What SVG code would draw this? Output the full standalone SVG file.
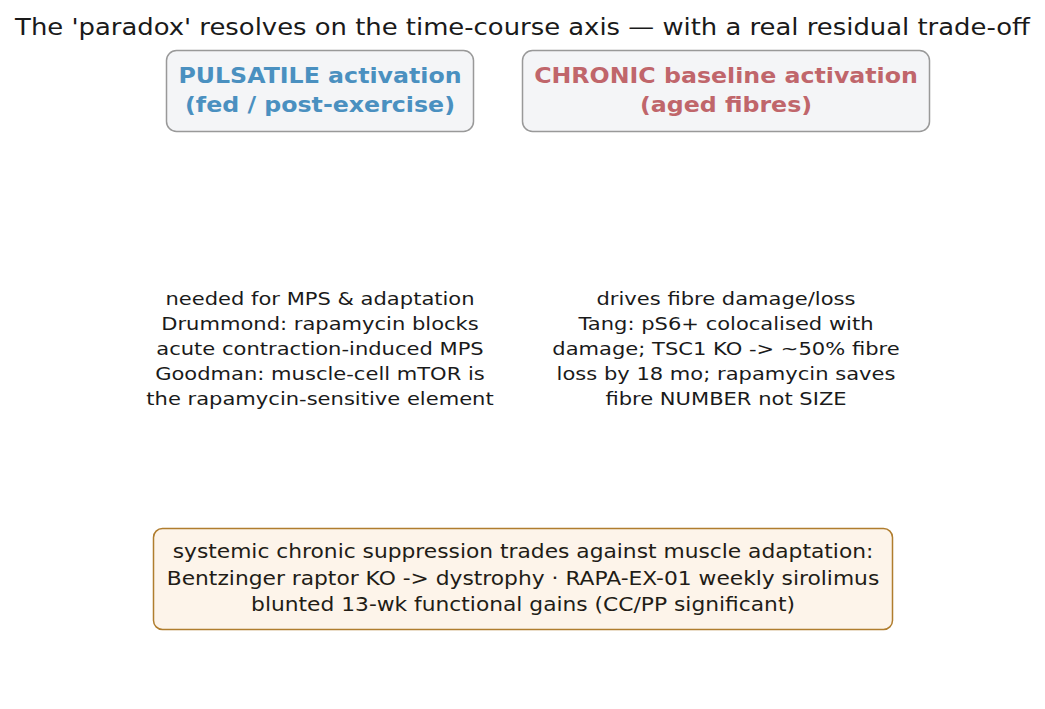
<svg xmlns="http://www.w3.org/2000/svg" width="1045" height="709" viewBox="0 0 1045 709">
<style>
text{font-family:"DejaVu Sans",sans-serif;text-anchor:middle;fill:#1a1a1a}
.title{font-size:22.5px}
.hdr{font-size:20.6px;font-weight:bold}
.body{font-size:18.3px}
.note{font-size:19.2px;fill:#221c16}
.hbox{fill:#f4f5f7;stroke:#999;stroke-width:1.5}
.blue{fill:#4a90c0}
.red{fill:#c0666b}
</style>
<rect width="1045" height="709" fill="#fff"/>
<g id="title" transform="translate(522.5 0) scale(1.15 1)">
<text class="title" x="0" y="35">The 'paradox' resolves on the time-course axis — with a real residual trade-off</text>
</g>
<g id="pulsatile">
<rect class="hbox" x="166.5" y="50.5" width="307" height="81" rx="10"/>
<g transform="translate(320 0) scale(1.15 1)">
<text class="hdr blue" x="0" y="83.5">PULSATILE activation</text>
<text class="hdr blue" x="0" y="112.5">(fed / post-exercise)</text>
</g>
</g>
<g id="chronic">
<rect class="hbox" x="522.5" y="50.5" width="407" height="81" rx="10"/>
<g transform="translate(726 0) scale(1.15 1)">
<text class="hdr red" x="0" y="83.5">CHRONIC baseline activation</text>
<text class="hdr red" x="0" y="112.5">(aged fibres)</text>
</g>
</g>
<g id="pulsatile-notes" transform="translate(320 0) scale(1.15 1)">
<text class="body" x="0" y="305.5">needed for MPS &amp; adaptation</text>
<text class="body" x="0" y="330.5">Drummond: rapamycin blocks</text>
<text class="body" x="0" y="355.5">acute contraction-induced MPS</text>
<text class="body" x="0" y="380.5">Goodman: muscle-cell mTOR is</text>
<text class="body" x="0" y="405.5">the rapamycin-sensitive element</text>
</g>
<g id="chronic-notes" transform="translate(726 0) scale(1.15 1)">
<text class="body" x="0" y="305.5">drives fibre damage/loss</text>
<text class="body" x="0" y="330.5">Tang: pS6+ colocalised with</text>
<text class="body" x="0" y="355.5">damage; TSC1 KO -&gt; ~50% fibre</text>
<text class="body" x="0" y="380.5">loss by 18 mo; rapamycin saves</text>
<text class="body" x="0" y="405.5">fibre NUMBER not SIZE</text>
</g>
<g id="tradeoff">
<rect x="153.5" y="528.5" width="739" height="101" rx="9" fill="#fdf4ea" stroke="#b07d2e" stroke-width="1.5"/>
<g transform="translate(523 0) scale(1.135 1)">
<text class="note" x="0" y="558.5">systemic chronic suppression trades against muscle adaptation:</text>
<text class="note" x="0" y="585">Bentzinger raptor KO -&gt; dystrophy · RAPA-EX-01 weekly sirolimus</text>
<text class="note" x="0" y="611.5">blunted 13-wk functional gains (CC/PP significant)</text>
</g>
</g>
<g id="connectors"/>
</svg>
